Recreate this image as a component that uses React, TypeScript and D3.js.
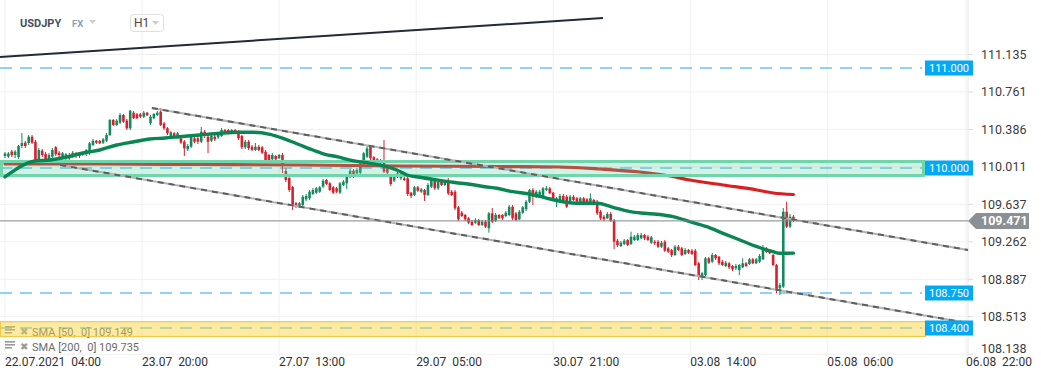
import React from 'react';
import * as d3 from 'd3';

// ---------- DATA ----------
const ohlc: [number, number, number, number][] = [
  [110.12,110.16,110.10,110.145],[110.115,110.16,110.10,110.145],[110.165,110.18,110.11,110.13],[110.13,110.18,110.10,110.163],
  [110.11,110.23,110.09,110.22],[110.22,110.35,110.20,110.25],[110.253,110.27,110.20,110.22],[110.25,110.33,110.23,110.313],
  [110.313,110.33,110.24,110.253],[110.263,110.28,110.06,110.08],[110.08,110.20,110.06,110.18],[110.173,110.19,110.11,110.13],
  [110.14,110.16,110.07,110.087],[110.087,110.15,110.07,110.13],[110.113,110.20,110.10,110.18],[110.207,110.22,110.12,110.137],
  [110.153,110.17,110.11,110.13],[110.107,110.16,110.09,110.147],[110.097,110.15,110.08,110.137],[110.13,110.15,110.07,110.097],
  [110.113,110.17,110.10,110.153],[110.147,110.16,110.10,110.12],[110.147,110.16,110.10,110.12],[110.13,110.16,110.12,110.147],
  [110.137,110.19,110.12,110.18],[110.147,110.26,110.13,110.247],[110.23,110.29,110.22,110.273],[110.273,110.28,110.24,110.253],
  [110.27,110.28,110.24,110.247],[110.253,110.30,110.24,110.287],[110.273,110.35,110.26,110.33],[110.33,110.49,110.32,110.48],
  [110.48,110.49,110.42,110.43],[110.43,110.49,110.42,110.473],[110.453,110.55,110.44,110.53],[110.53,110.54,110.45,110.463],
  [110.473,110.49,110.38,110.397],[110.397,110.58,110.38,110.573],[110.553,110.57,110.49,110.497],[110.537,110.55,110.49,110.497],
  [110.537,110.55,110.50,110.513],[110.513,110.57,110.50,110.553],[110.553,110.56,110.52,110.527],[110.447,110.53,110.43,110.513],
  [110.497,110.55,110.49,110.54],[110.53,110.57,110.52,110.553],[110.563,110.60,110.42,110.43],[110.447,110.46,110.38,110.397],
  [110.397,110.41,110.33,110.347],[110.313,110.37,110.30,110.357],[110.347,110.36,110.31,110.32],[110.32,110.36,110.31,110.347],
  [110.297,110.31,110.24,110.253],[110.263,110.28,110.12,110.197],[110.187,110.24,110.17,110.22],[110.213,110.33,110.20,110.313],
  [110.297,110.31,110.25,110.263],[110.297,110.32,110.24,110.263],[110.263,110.41,110.25,110.363],[110.363,110.38,110.30,110.32],
  [110.313,110.33,110.15,110.263],[110.273,110.34,110.26,110.32],[110.313,110.33,110.27,110.287],[110.307,110.36,110.29,110.347],
  [110.32,110.40,110.31,110.38],[110.38,110.39,110.34,110.353],[110.38,110.39,110.34,110.353],[110.353,110.39,110.34,110.38],
  [110.38,110.39,110.34,110.353],[110.363,110.38,110.28,110.297],[110.32,110.33,110.19,110.207],[110.207,110.28,110.19,110.263],
  [110.263,110.28,110.18,110.197],[110.213,110.23,110.17,110.18],[110.18,110.25,110.17,110.213],[110.213,110.23,110.17,110.18],
  [110.207,110.22,110.14,110.153],[110.163,110.18,110.07,110.08],[110.13,110.14,110.06,110.073],[110.087,110.15,110.07,110.13],
  [110.12,110.13,110.07,110.087],[110.097,110.14,110.09,110.13],[110.13,110.15,109.95,110.03],[109.97,110.0,109.86,109.88],
  [109.90,109.91,109.76,109.78],[109.81,109.82,109.58,109.62],[109.647,109.66,109.60,109.613],[109.613,109.66,109.60,109.647],
  [109.63,109.73,109.62,109.713],[109.687,109.74,109.67,109.72],[109.697,109.78,109.68,109.763],[109.74,109.80,109.73,109.78],
  [109.753,109.81,109.74,109.797],[109.763,109.82,109.75,109.807],[109.813,109.89,109.80,109.873],[109.88,109.89,109.83,109.84],
  [109.847,109.86,109.77,109.78],[109.807,109.82,109.74,109.753],[109.797,109.81,109.75,109.763],[109.753,109.86,109.74,109.847],
  [109.83,109.88,109.82,109.863],[109.847,109.93,109.79,109.913],[109.913,109.99,109.90,109.973],[109.973,109.99,109.90,109.913],
  [109.947,110.0,109.93,109.98],[109.953,110.06,109.94,110.047],[110.047,110.16,110.03,110.147],[110.113,110.22,110.10,110.197],
  [110.213,110.23,110.08,110.097],[110.107,110.12,110.05,110.063],[110.087,110.10,110.03,110.047],[110.08,110.09,110.03,110.047],
  [110.073,110.28,109.95,109.963],[109.997,110.01,109.94,109.953],[109.92,109.93,109.82,109.84],[109.873,109.93,109.86,109.913],
  [109.947,109.96,109.90,109.913],[109.897,109.95,109.88,109.93],[109.897,109.91,109.87,109.88],[109.897,109.91,109.72,109.74],
  [109.753,109.76,109.70,109.72],[109.73,109.82,109.72,109.807],[109.807,109.82,109.76,109.773],[109.763,109.80,109.75,109.787],
  [109.78,109.79,109.67,109.73],[109.73,109.85,109.72,109.83],[109.813,109.90,109.80,109.88],[109.873,109.89,109.78,109.797],
  [109.797,109.88,109.78,109.863],[109.863,109.88,109.82,109.83],[109.83,109.87,109.82,109.86],[109.863,109.90,109.73,109.747],
  [109.763,109.78,109.72,109.73],[109.763,109.78,109.58,109.597],[109.607,109.62,109.47,109.487],[109.553,109.57,109.51,109.52],
  [109.53,109.54,109.47,109.487],[109.497,109.51,109.44,109.453],[109.463,109.48,109.42,109.43],[109.453,109.50,109.44,109.48],
  [109.48,109.49,109.42,109.43],[109.43,109.48,109.42,109.463],[109.463,109.48,109.40,109.413],[109.397,109.56,109.353,109.547],
  [109.547,109.60,109.45,109.463],[109.473,109.55,109.46,109.53],[109.53,109.54,109.49,109.497],[109.53,109.54,109.48,109.497],
  [109.52,109.57,109.51,109.553],[109.53,109.63,109.52,109.613],[109.613,109.63,109.48,109.497],[109.547,109.56,109.47,109.48],
  [109.487,109.58,109.48,109.563],[109.553,109.62,109.54,109.607],[109.587,109.68,109.57,109.663],[109.663,109.79,109.65,109.78],
  [109.78,109.80,109.63,109.713],[109.707,109.78,109.70,109.763],[109.72,109.78,109.71,109.763],[109.713,109.81,109.70,109.797],
  [109.78,109.82,109.77,109.797],[109.797,109.81,109.74,109.747],[109.753,109.76,109.69,109.697],[109.663,109.71,109.61,109.697],
  [109.68,109.74,109.67,109.72],[109.72,109.74,109.67,109.68],[109.713,109.73,109.60,109.613],[109.647,109.73,109.64,109.713],
  [109.713,109.73,109.67,109.68],[109.697,109.71,109.65,109.663],[109.653,109.71,109.64,109.697],[109.697,109.71,109.64,109.653],
  [109.687,109.70,109.64,109.653],[109.653,109.747,109.64,109.697],[109.68,109.69,109.64,109.647],[109.663,109.68,109.53,109.547],
  [109.563,109.58,109.48,109.497],[109.513,109.53,109.47,109.487],[109.497,109.56,109.49,109.54],[109.54,109.56,109.46,109.473],
  [109.473,109.49,109.19,109.263],[109.273,109.29,109.21,109.23],[109.22,109.27,109.21,109.253],[109.24,109.29,109.23,109.273],
  [109.28,109.29,109.22,109.23],[109.24,109.363,109.23,109.313],[109.28,109.33,109.27,109.313],[109.28,109.35,109.27,109.33],
  [109.297,109.35,109.29,109.33],[109.33,109.34,109.28,109.297],[109.313,109.33,109.27,109.28],[109.253,109.32,109.24,109.307],
  [109.263,109.28,109.23,109.247],[109.263,109.28,109.20,109.213],[109.213,109.27,109.20,109.253],[109.263,109.28,109.16,109.173],
  [109.197,109.21,109.15,109.163],[109.18,109.19,109.11,109.13],[109.13,109.23,109.12,109.213],[109.213,109.23,109.17,109.18],
  [109.197,109.21,109.12,109.13],[109.14,109.20,109.13,109.18],[109.18,109.19,109.14,109.153],[109.173,109.19,109.13,109.14],
  [109.173,109.19,109.02,109.03],[109.047,109.06,108.88,108.913],[108.913,108.96,108.88,108.947],[108.93,109.11,108.92,109.097],
  [109.097,109.11,109.04,109.053],[109.063,109.15,109.05,109.13],[109.13,109.14,109.08,109.097],[109.113,109.12,109.03,109.047],
  [109.063,109.08,109.02,109.03],[109.02,109.07,109.01,109.053],[109.047,109.06,108.99,109.007],[109.02,109.03,108.97,108.987],
  [108.997,109.04,108.98,109.02],[108.98,109.04,108.93,109.03],[109.007,109.097,109.00,109.047],[109.047,109.06,109.01,109.02],
  [109.04,109.10,109.03,109.087],[109.087,109.10,109.04,109.047],[109.047,109.10,109.04,109.087],[109.063,109.14,109.05,109.12],
  [109.087,109.23,109.08,109.197],[109.197,109.21,109.15,109.163],[109.18,109.19,109.14,109.147],[109.13,109.14,109.02,109.03],
  [109.03,109.04,108.747,108.78],[108.797,108.85,108.73,108.83],[108.813,109.60,108.80,109.563],[109.563,109.663,109.40,109.413],
  [109.413,109.54,109.40,109.513],[109.513,109.53,109.46,109.471],
];

// SMA values: [bar index, price]
const sma50: [number, number][] = [
  [0,109.91],[8.9,110.07],[13.3,110.08],[18.3,110.11],[23,110.15],[28,110.18],[33,110.23],[37.8,110.26],[42.8,110.29],
  [47.3,110.30],[51.7,110.313],[57.6,110.33],[63.5,110.347],[69.4,110.357],[73.3,110.357],[78.3,110.337],[82.2,110.297],
  [87.2,110.23],[91,110.18],[94.6,110.137],[98.1,110.113],[102.8,110.073],[107.9,110.047],[112.9,110.013],[115.8,109.98],
  [118.8,109.93],[122.6,109.907],[127.7,109.88],[132.4,109.857],[137.4,109.837],[141.8,109.813],[145.4,109.797],[150.1,109.763],
  [155.1,109.74],[160.2,109.697],[164.9,109.663],[169.9,109.647],[174.9,109.647],[179.7,109.607],[184.7,109.563],[189.1,109.547],
  [192.7,109.537],[197.4,109.513],[202.4,109.463],[207.4,109.413],[212.2,109.347],[217.2,109.28],[222.2,109.213],[227,109.163],
  [229,109.147],[233,109.149],
];
const sma200: [number, number][] = [
  [0,110.04],[28,110.04],[57.6,110.035],[87.2,110.03],[116.7,110.02],[146.3,110.015],[164,110.01],[175.8,109.99],
  [187.6,109.96],[196.5,109.92],[202.4,109.88],[212.2,109.83],[222.2,109.78],[227,109.75],[233,109.735],
];

const priceTicks = [111.135, 110.761, 110.386, 110.011, 109.637, 109.262, 108.887, 108.513, 108.138];
const timeTickBars = [0, 40.5, 81, 121.5, 162, 202.5, 243, 284];
const timeTickLabels = ['22.07.2021  04:00', '23.07  20:00', '27.07  13:00', '29.07  05:00', '30.07  21:00', '03.08  14:00', '05.08  06:00', '06.08  22:00'];

const levels = [111.0, 110.0, 108.75, 108.4];
const levelLabels = ['111.000', '110.000', '108.750', '108.400'];
const greenZone = [110.065, 109.925];
const yellowZone = [108.463, 108.315];
const trendTop: [number, number][] = [[-1.48, 111.11], [176.7, 111.5]];
const channelUpper: [number, number][] = [[43.4, 110.6], [284.6, 109.18]];
const channelLower: [number, number][] = [[16.3, 110.03], [284.6, 108.45]];
const lastPrice = 109.471;
const legendRows = ['SMA [50,  0] 109.149', 'SMA [200,  0] 109.735'];

// ---------- CHART ----------
const W = 1041, H = 379;
const PLOT_R = 968;
const GREEN = '#138a5e';
const RED = '#d6212d';

export default function App() {
  const x = d3.scaleLinear().domain([0, 284]).range([5, 966]);
  const y = d3.scaleLinear().domain([108, 111.5]).range([368, 18]);
  const line = d3.line<[number, number]>().x(d => x(d[0])).y(d => y(d[1]));
  const smooth = d3.line<[number, number]>().x(d => x(d[0])).y(d => y(d[1])).curve(d3.curveMonotoneX);
  const bw = 2.6;

  const priceY = (p: number, i: number) => (i === priceTicks.length - 1 ? y(p) - 6 : y(p));

  return (
    <svg width={W} height={H} style={{ position: 'absolute', left: 0, top: 0, fontFamily: 'Roboto, sans-serif', background: '#fff' }}>
      {/* grid */}
      {priceTicks.map((p, i) => (
        <g key={'gy' + i}>
          <line x1={0} x2={PLOT_R} y1={y(p)} y2={y(p)} stroke="#f0f0f0" strokeWidth={1} />
          <line x1={PLOT_R} x2={PLOT_R + 5} y1={y(p)} y2={y(p)} stroke="#dcdcdc" strokeWidth={1} />
        </g>
      ))}
      {timeTickBars.map((b, i) => (
        <line key={'gx' + i} x1={x(b)} x2={x(b)} y1={0} y2={356} stroke="#f0f0f0" strokeWidth={1} />
      ))}
      <line x1={PLOT_R} x2={PLOT_R} y1={0} y2={358} stroke="#e6e6e6" strokeWidth={1} />

      {/* legend (under zone) */}
      {legendRows.map((t, i) => (
        <g key={'lg' + i} transform={`translate(0, ${i * 15})`}>
          <rect x={5} y={326} width={10} height={1.6} fill="#9a9a9a" />
          <rect x={5} y={329} width={10} height={1.6} fill="#9a9a9a" />
          <rect x={5} y={332} width={7} height={1.6} fill="#9a9a9a" />
          <text x={20} y={335} fontSize={10} fill="#9a9a9a">✖</text>
          <text x={32} y={336} fontSize={11} fill="#6a6a6a" style={{ whiteSpace: 'pre' }}>{t}</text>
        </g>
      ))}

      {/* horizontal dashed levels */}
      {levels.map((p, i) => (
        <line key={'lv' + i} x1={0} x2={922} y1={y(p)} y2={y(p)} stroke="#1ea7ea" strokeWidth={1} strokeDasharray="12 8" />
      ))}

      {/* candles */}
      {ohlc.map((d, i) => {
        const [o, h, l, c] = d;
        const col = c >= o ? GREEN : RED;
        const cx = x(i);
        const top = y(Math.max(o, c));
        const bh = Math.max(1, Math.abs(y(o) - y(c)));
        return (
          <g key={'c' + i}>
            <line x1={cx} x2={cx} y1={y(h)} y2={y(l)} stroke={col} strokeWidth={1} />
            <rect x={cx - bw / 2} y={top} width={bw} height={bh} fill={col} />
          </g>
        );
      })}

      {/* SMA 200 */}
      <path d={smooth(sma200) || ''} fill="none" stroke="#d91f1f" strokeWidth={3.2} strokeLinecap="round" />

      {/* zones */}
      <rect x={1.5} y={y(greenZone[0])} width={922} height={y(greenZone[1]) - y(greenZone[0])}
        fill="rgba(90,210,160,0.28)" stroke="#6fd6ac" strokeWidth={3} />
      <rect x={0.5} y={y(yellowZone[0])} width={925} height={y(yellowZone[1]) - y(yellowZone[0])}
        fill="rgba(250,210,50,0.45)" stroke="#f0c94a" strokeWidth={1.2} />

      {/* SMA 50 */}
      <path d={smooth(sma50) || ''} fill="none" stroke="#0a8554" strokeWidth={3.4} strokeLinecap="round" />

      {/* channel lines */}
      {[channelUpper, channelLower].map((c, i) => (
        <g key={'ch' + i}>
          <path d={line(c) || ''} stroke="#b4b4b4" strokeWidth={2} fill="none" />
          <path d={line(c) || ''} stroke="#5e5e5e" strokeWidth={2} strokeDasharray="6 5" fill="none" />
        </g>
      ))}

      {/* top trend line */}
      <path d={line(trendTop) || ''} stroke="#222a35" strokeWidth={2} fill="none" />

      {/* current price line */}
      <line x1={0} x2={PLOT_R} y1={y(lastPrice)} y2={y(lastPrice)} stroke="#80878c" strokeWidth={1} />

      {/* level labels */}
      {levels.map((p, i) => (
        <g key={'ll' + i}>
          <rect x={925} y={y(p) - 7.5} width={48} height={15} fill="#03a9f4" />
          <text x={949} y={y(p)} dy="0.35em" textAnchor="middle" fontSize={11} fill="#fff">{levelLabels[i]}</text>
        </g>
      ))}

      {/* price axis labels */}
      {priceTicks.map((p, i) => (
        <text key={'pl' + i} x={981} y={priceY(p, i)} dy="0.35em" fontSize={12.5} fill="#3c3c3c">{p.toFixed(3)}</text>
      ))}

      {/* last price label */}
      <path d={`M${PLOT_R},${y(lastPrice)} L${PLOT_R + 8},${y(lastPrice) - 8} L1029,${y(lastPrice) - 8} L1029,${y(lastPrice) + 8} L${PLOT_R + 8},${y(lastPrice) + 8} Z`} fill="#8a9094" />
      <text x={981} y={y(lastPrice)} dy="0.36em" fontSize={12.5} fontWeight="bold" fill="#fff">{lastPrice.toFixed(3)}</text>

      {/* time axis labels */}
      {timeTickLabels.map((t, i) => (
        <text key={'tl' + i} x={x(timeTickBars[i])} y={366} fontSize={12} fill="#333" style={{ whiteSpace: 'pre' }}>{t}</text>
      ))}

      {/* header */}
      <text x={20} y={27} fontSize={11} fontWeight="bold" fill="#434f5c">USDJPY</text>
      <text x={72} y={27} fontSize={9.5} fontWeight="bold" fill="#8aa0b3">FX</text>
      <path d="M89,20 L96,20 L92.5,24 Z" fill="#c8ced4" />
      <rect x={130.5} y={14.5} width={33} height={17} rx={3} fill="#fff" stroke="#dedede" />
      <text x={134} y={27} fontSize={12} fill="#444">H1</text>
      <path d="M152,21 L159,21 L155.5,25 Z" fill="#c8ced4" />
    </svg>
  );
}
